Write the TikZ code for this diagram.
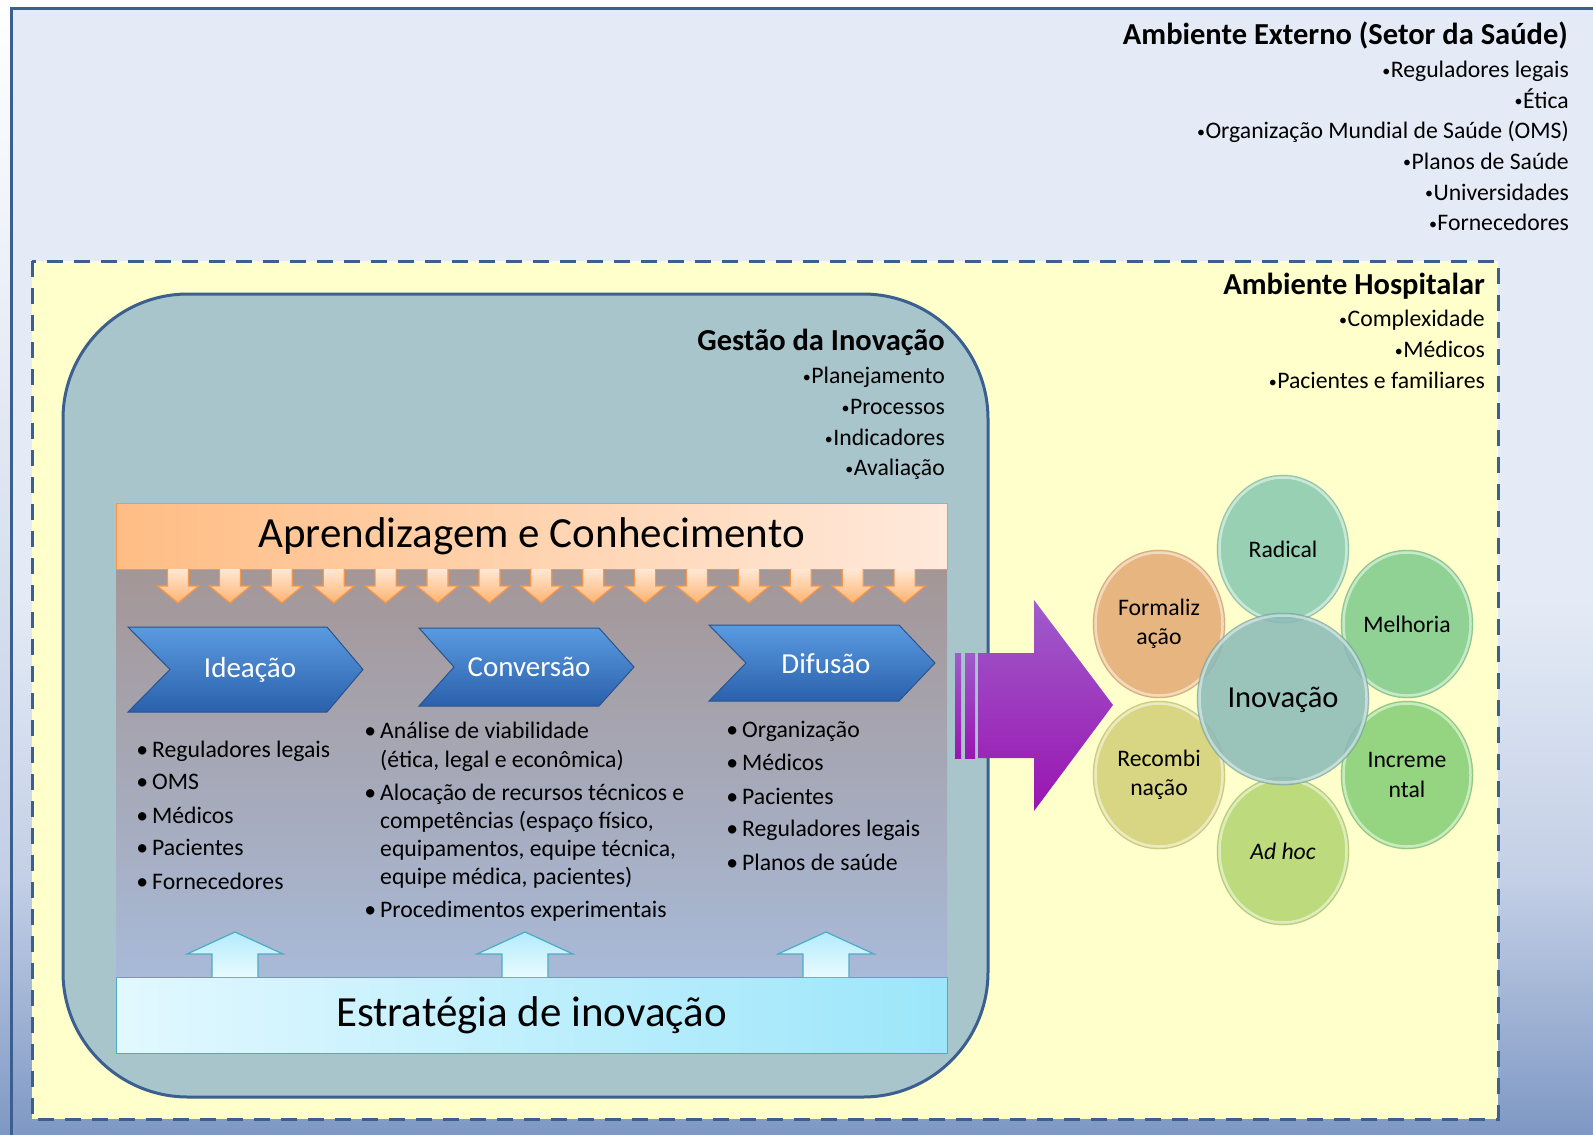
\documentclass[tikz,border=0pt]{standalone}
\usepackage{fontspec}
\setmainfont{Carlito}
\usetikzlibrary{calc}
\definecolor{frameblue}{HTML}{3B5F8E}
\definecolor{bgtop}{HTML}{E4EBF6}
\definecolor{bgmid}{HTML}{C3CFE6}
\definecolor{bgbot}{HTML}{7D97C3}
\definecolor{hospyellow}{HTML}{FFFFCC}
\definecolor{gestaofill}{HTML}{A9C5CC}
\definecolor{panelTop}{HTML}{A49696}
\definecolor{panelBot}{HTML}{A8BAD8}
\definecolor{apLeft}{HTML}{FFBD84}
\definecolor{apRight}{HTML}{FFE9DB}
\definecolor{apBorder}{HTML}{F79646}
\definecolor{dnTop}{HTML}{FFE8D6}
\definecolor{dnBot}{HTML}{FFB370}
\definecolor{chevTop}{HTML}{5A9BE0}
\definecolor{chevBot}{HTML}{2B60AC}
\definecolor{chevBorder}{HTML}{28548F}
\definecolor{esLeft}{HTML}{E2F8FF}
\definecolor{esRight}{HTML}{9CE6FA}
\definecolor{esBorder}{HTML}{4BACC6}
\definecolor{upTop}{HTML}{B3EBFC}
\definecolor{upBot}{HTML}{E8FBFF}
\definecolor{purpTop}{HTML}{9F5CCB}
\definecolor{purpBot}{HTML}{9A14B1}
\definecolor{cRadical}{HTML}{8FCDB0}
\definecolor{cMelhoria}{HTML}{86CF90}
\definecolor{cIncr}{HTML}{8DD27C}
\definecolor{cAdhoc}{HTML}{B8D777}
\definecolor{cRecomb}{HTML}{D5D37C}
\definecolor{cFormal}{HTML}{E4AF7A}
\definecolor{cInov}{HTML}{89B9B7}
\newcommand\myfs[2]{\fontsize{#1}{#2}\selectfont}
\newcommand\chevshape[6]{%
  \shade[top color=chevTop, bottom color=chevBot, draw=chevBorder, line width=1]
    (#1,#2) -- (#3-#5,#2) -- (#3,{(#2+#4)/2}) -- (#3-#5,#4) -- (#1,#4) -- (#1+#6,{(#2+#4)/2}) -- cycle;}
\newcommand\bubble[4]{% x y color
  \fill[#3, fill opacity=0.92] (#1,#2) ellipse [x radius=#4pt, y radius=#4pt+8pt];
  \draw[white, opacity=0.5, line width=2.5] (#1,#2) ellipse [x radius=#4pt-2.5pt, y radius=#4pt+5.5pt];
  \draw[#3!60!black, opacity=0.25, line width=0.8] (#1,#2) ellipse [x radius=#4pt, y radius=#4pt+8pt];}
\tikzset{
  headtxt/.style={anchor=base east, inner sep=0, font=\bfseries\myfs{30.5}{36}},
  righttxt/.style={anchor=base east, inner sep=0, font=\myfs{23.7}{29}},
  listtxt/.style={anchor=base west, inner sep=0, font=\myfs{23.7}{29}},
  chevtxt/.style={inner sep=0, text=white, font=\myfs{29}{34}},
  bandtxt/.style={inner sep=0, font=\myfs{43}{50}},
  bubtxt/.style={inner sep=0, align=center, font=\myfs{23.7}{29.5}},
}
\newcommand\bul{\llap{•\kern4pt}}
\newcommand\sbul{\raisebox{1.6pt}{\myfs{16}{16}•}\kern0.5pt}
\begin{document}
\begin{tikzpicture}[x=1pt,y=-1pt]
\useasboundingbox (0,0) rectangle (1593,1135);
\clip (0,0) rectangle (1593,1135);
\fill[white] (0,0) rectangle (1593,1135);
% outer environment
\shade[top color=white, bottom color=bgmid] (0,0) rectangle (11,881);
\fill[bgtop] (11,8) rectangle (1600,601);
\shade[top color=bgtop, bottom color=bgmid] (11,600) rectangle (1600,881);
\shade[top color=bgmid, bottom color=bgbot] (0,880) rectangle (1600,1140);
\draw[frameblue, line width=3] (11,1150) -- (11,8) -- (1610,8);
% hospital environment
\draw[frameblue, line width=3, fill=hospyellow, dash pattern=on 16pt off 11pt] (32,261) rectangle (1498,1119);
% gestao
\draw[frameblue, line width=3, fill=gestaofill, rounded corners=125pt] (63,294) rectangle (988,1097);
% inner panel
\shade[top color=panelTop, bottom color=panelBot] (116,566) rectangle (947,978);
% aprendizagem band
\shade[left color=apLeft, right color=apRight, draw=apBorder, line width=1] (116,503) rectangle (947,569);
\node[bandtxt] (aprend) at (531.5,536) {Aprendizagem e Conhecimento};
% down arrows
\foreach \i in {0,...,14}{
  \pgfmathsetmacro\cx{178+51.9*\i}
  \shade[top color=dnTop, bottom color=dnBot, draw=apBorder, line width=1.2]
    (\cx-10.5,569) -- (\cx-10.5,586) -- (\cx-20.5,586) -- (\cx,603) -- (\cx+20.5,586) -- (\cx+10.5,586) -- (\cx+10.5,569);
}
% chevrons
\chevshape{128}{627}{363}{712}{36}{42}
\chevshape{419}{628}{634}{706}{35}{35}
\chevshape{709}{625}{935}{701}{36}{37}
\node[chevtxt] (ideacao) at (250,670) {Ideação};
\node[chevtxt] (conversao) at (529,667) {Conversão};
\node[chevtxt] (difusao) at (826,664) {Difusão};
% lists
\node[listtxt] (i1) at (152,757.6) {\bul Reguladores legais};
\node[listtxt] (i2) at (152,789.6) {\bul OMS};
\node[listtxt] (i3) at (152,823.6) {\bul Médicos};
\node[listtxt] (i4) at (152,855.6) {\bul Pacientes};
\node[listtxt] (i5) at (152,889.6) {\bul Fornecedores};
\node[listtxt] (c1) at (380,738.6) {\bul Análise de viabilidade};
\node[listtxt] (c2) at (380,767.6) {(ética, legal e econômica)};
\node[listtxt] (c3) at (380,800.6) {\bul Alocação de recursos técnicos e};
\node[listtxt] (c4) at (380,828.6) {competências (espaço físico,};
\node[listtxt] (c5) at (380,856.6) {equipamentos, equipe técnica,};
\node[listtxt] (c6) at (380,884.6) {equipe médica, pacientes)};
\node[listtxt] (c7) at (380,917.6) {\bul Procedimentos experimentais};
\node[listtxt] (d1) at (742,737.6) {\bul Organização};
\node[listtxt] (d2) at (742,770.6) {\bul Médicos};
\node[listtxt] (d3) at (742,804.6) {\bul Pacientes};
\node[listtxt] (d4) at (742,836.6) {\bul Reguladores legais};
\node[listtxt] (d5) at (742,870.6) {\bul Planos de saúde};
% estrategia band
\shade[left color=esLeft, right color=esRight, draw=esBorder, line width=1] (116,977) rectangle (947,1053);
\node[bandtxt] (estrat) at (531.5,1015) {Estratégia de inovação};
% up arrows
\foreach \cx in {235,525,826}{
  \shade[top color=upTop, bottom color=upBot, draw=esBorder, line width=1.2]
    (\cx-23,977) -- (\cx-23,954) -- (\cx-48,954) -- (\cx,932) -- (\cx+48,954) -- (\cx+23,954) -- (\cx+23,977);
}
% gestao text
\node[headtxt] (gestao) at (945,350) {Gestão da Inovação};
\node[righttxt] (g1) at (945,383.6) {\sbul Planejamento};
\node[righttxt] (g2) at (945,414.6) {\sbul Processos};
\node[righttxt] (g3) at (945,445.6) {\sbul Indicadores};
\node[righttxt] (g4) at (945,475.6) {\sbul Avaliação};
% hospital text
\node[headtxt] (hosp) at (1485,294.8) {Ambiente Hospitalar};
\node[righttxt] (h1) at (1485,326.6) {\sbul Complexidade};
\node[righttxt] (h2) at (1485,357.6) {\sbul Médicos};
\node[righttxt] (h3) at (1485,388.6) {\sbul Pacientes e familiares};
% external text
\node[headtxt] (ext) at (1568,44.8) {Ambiente Externo (Setor da Saúde)};
\node[righttxt] (e1) at (1569,77.6) {\sbul Reguladores legais};
\node[righttxt] (e2) at (1569,108.2) {\sbul Ética};
\node[righttxt] (e3) at (1569,138.8) {\sbul Organização Mundial de Saúde (OMS)};
\node[righttxt] (e4) at (1569,169.4) {\sbul Planos de Saúde};
\node[righttxt] (e5) at (1569,200) {\sbul Universidades};
\node[righttxt] (e6) at (1569,230.6) {\sbul Fornecedores};
% purple arrow
\shade[top color=purpTop, bottom color=purpBot] (955,653) rectangle (961,758);
\shade[top color=purpTop, bottom color=purpBot] (965,653) rectangle (975,758);
\shade[top color=purpTop, bottom color=purpBot]
  (978,653) -- (1034,653) -- (1034,600) -- (1113,705) -- (1034,811) -- (1034,758) -- (978,758) -- cycle;
% bubbles
\bubble{1283}{549}{cRadical}{66}
\bubble{1407}{624}{cMelhoria}{66}
\bubble{1407}{775}{cIncr}{66}
\bubble{1283}{851}{cAdhoc}{66}
\bubble{1159}{775}{cRecomb}{66}
\bubble{1159}{624}{cFormal}{66}
\fill[cInov, fill opacity=0.85] (1283,699) circle (86pt);
\draw[white, opacity=0.45, line width=2.5] (1283,699) circle (83.5pt);
\draw[cInov!60!black, opacity=0.25, line width=0.8] (1283,699) circle (86pt);
\node[bubtxt] (radical) at (1283,549) {Radical};
\node[bubtxt] (melhoria) at (1407,624) {Melhoria};
\node[bubtxt] (incremental) at (1407,775) {Increme\\ntal};
\node[bubtxt] (adhoc) at (1283,851) {\itshape Ad hoc};
\node[bubtxt] (recomb) at (1159,775) {Recombi\\nação};
\node[bubtxt] (formal) at (1159,624) {Formaliz\\ação};
\node[inner sep=0, font=\myfs{30.5}{36}] (inovacao) at (1283,700) {Inovação};
\end{tikzpicture}
\end{document}
